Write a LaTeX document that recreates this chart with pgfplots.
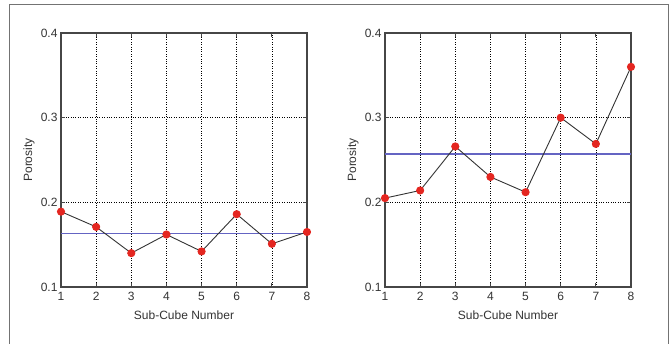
\documentclass[border=0pt]{standalone}
\usepackage{pgfplots}
\pgfplotsset{compat=1.18}
\usepackage{fontspec}
\setmainfont{Liberation Sans}
\definecolor{meanblue}{RGB}{100,100,195}
\definecolor{ptred}{RGB}{228,38,32}
\definecolor{axgray}{RGB}{70,70,70}
\pgfplotsset{
  porstyle/.style={
    scale only axis, width=246pt, height=254pt,
    xmin=1, xmax=8, ymin=0.1, ymax=0.4,
    xtick={1,2,3,4,5,6,7,8},
    ytick={0.1,0.2,0.3,0.4},
    yticklabel style={/pgf/number format/fixed, /pgf/number format/fixed zerofill, /pgf/number format/precision=1},
    /pgf/number format/assume math mode=true,
    tick label style={font=\fontsize{12}{14}\selectfont, text=black!80},
    label style={font=\fontsize{12}{14}\selectfont, text=black!80},
    grid=major,
    grid style={dotted, black, line width=0.7pt},
    axis line style={axgray, line width=1.3pt},
    tick align=inside, major tick length=4pt,
    tick style={axgray, line width=0.8pt},
    clip mode=individual,
    xlabel={Sub-Cube Number},
    ylabel={Porosity},
    xlabel style={at={(axis description cs:0.5,-0.11)}, anchor=center},
    ylabel style={at={(axis description cs:-0.13,0.5)}, anchor=center},
    xticklabel style={yshift=-2pt},
  },
  ptline/.style={black!80, line width=0.9pt, mark=*, mark size=3.6pt, mark options={fill=ptred, draw=ptred}},
  meanline/.style={draw=meanblue, line width=1.6pt, no marks},
}
\begin{document}
\begin{tikzpicture}
\useasboundingbox (0,0) rectangle (672pt,343pt);
\begin{axis}[porstyle, at={(61pt,56pt)}, anchor=south west]
  \addplot[meanline] coordinates {(1,0.1632) (8,0.1632)};
  \addplot[ptline] coordinates {(1,0.189) (2,0.171) (3,0.140) (4,0.162) (5,0.142) (6,0.186) (7,0.151) (8,0.165)};
\end{axis}
\begin{axis}[porstyle, at={(385pt,56pt)}, anchor=south west]
  \addplot[meanline] coordinates {(1,0.257) (8,0.257)};
  \addplot[ptline] coordinates {(1,0.205) (2,0.214) (3,0.266) (4,0.230) (5,0.212) (6,0.300) (7,0.269) (8,0.360)};
\end{axis}
\draw[black!55, line width=1pt] (9pt,-5pt) -- (9pt,338pt) -- (668pt,338pt) -- (668pt,-5pt);
\end{tikzpicture}
\end{document}
